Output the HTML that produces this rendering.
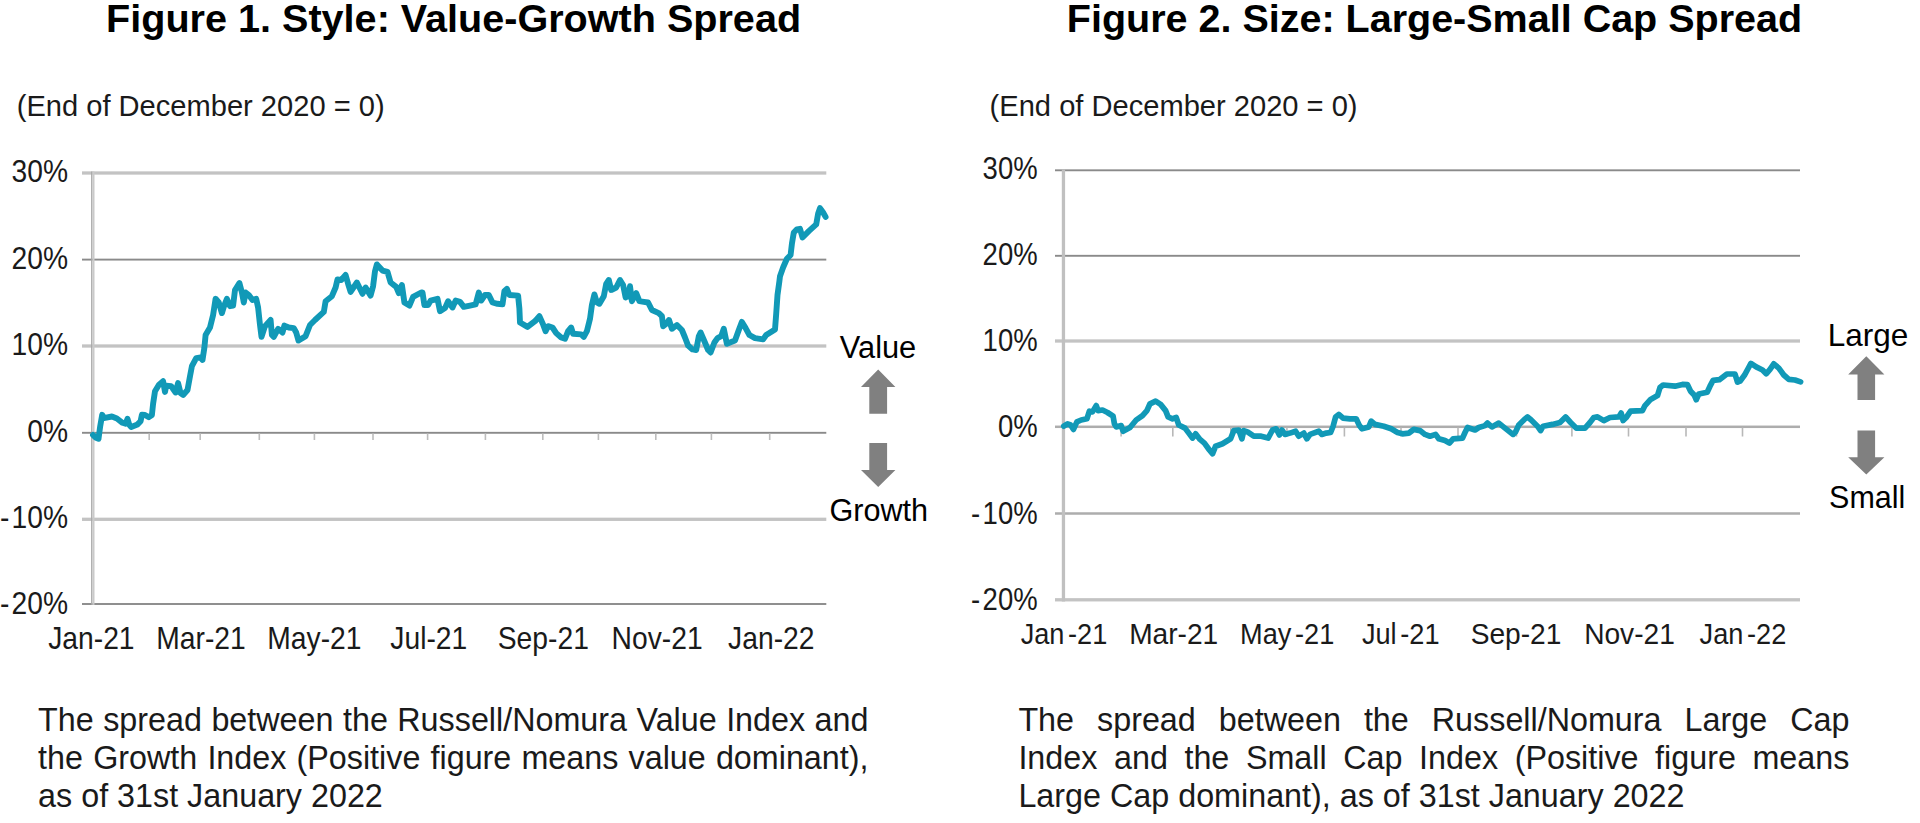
<!DOCTYPE html>
<html lang="en">
<head>
<meta charset="utf-8">
<title>Russell/Nomura Style and Size Spreads</title>
<style>
html,body{margin:0;padding:0;background:#fff;}
body{width:1920px;height:823px;position:relative;overflow:hidden;font-family:"Liberation Sans",Arial,Helvetica,sans-serif;color:#1a1a1a;}
svg{position:absolute;left:0;top:0;}
svg text{font-family:"Liberation Sans",Arial,Helvetica,sans-serif;fill:#1a1a1a;}
.cap{position:absolute;font-size:32.3px;line-height:38.3px;color:#1a1a1a;}
.cap div{white-space:nowrap;text-align:justify;text-align-last:justify;height:38.3px;}
.cap div.last{text-align:left;text-align-last:left;}
#cap1{left:38.1px;top:700.8px;width:830.4px;}
#cap2{left:1018.4px;top:700.8px;width:831px;}
</style>
</head>
<body>
<svg width="1920" height="823" viewBox="0 0 1920 823">
<rect x="82" y="171.35" width="744.3" height="3.3" fill="#c3c3c3"/>
<rect x="82" y="258.65" width="744.3" height="1.9" fill="#8a8a8a"/>
<rect x="82" y="344.35" width="744.3" height="3.3" fill="#c3c3c3"/>
<rect x="82" y="431.85" width="744.3" height="1.9" fill="#8a8a8a"/>
<rect x="82" y="517.65" width="744.3" height="3.3" fill="#c3c3c3"/>
<rect x="82" y="603.05" width="744.3" height="1.9" fill="#8a8a8a"/>
<rect x="91.1" y="171.5" width="1.3" height="433.4" fill="#a8a8a8"/><rect x="92.4" y="171.5" width="2.1" height="433.4" fill="#cacaca"/>
<rect x="148.4" y="433.5" width="1.6" height="6.5" fill="#bdbdbd"/>
<rect x="199.4" y="433.5" width="1.6" height="6.5" fill="#bdbdbd"/>
<rect x="258.5" y="433.5" width="1.6" height="6.5" fill="#bdbdbd"/>
<rect x="313.6" y="433.5" width="1.6" height="6.5" fill="#bdbdbd"/>
<rect x="372.2" y="433.5" width="1.6" height="6.5" fill="#bdbdbd"/>
<rect x="426.8" y="433.5" width="1.6" height="6.5" fill="#bdbdbd"/>
<rect x="484.6" y="433.5" width="1.6" height="6.5" fill="#bdbdbd"/>
<rect x="542.0" y="433.5" width="1.6" height="6.5" fill="#bdbdbd"/>
<rect x="597.6" y="433.5" width="1.6" height="6.5" fill="#bdbdbd"/>
<rect x="655.0" y="433.5" width="1.6" height="6.5" fill="#bdbdbd"/>
<rect x="710.6" y="433.5" width="1.6" height="6.5" fill="#bdbdbd"/>
<rect x="768.9" y="433.5" width="1.6" height="6.5" fill="#bdbdbd"/>
<path d="M93.0,435.0 L95.5,437.5 L98.5,438.8 L100.2,426.2 L102.2,414.8 L103.8,418.1 L111.9,416.5 L116.9,418.5 L122.5,422.8 L125.6,423.8 L127.5,418.8 L129.4,425.0 L131.2,426.9 L137.5,424.4 L140.6,421.2 L141.9,414.8 L145.0,415.0 L148.8,417.2 L151.9,415.0 L153.1,403.8 L155.0,391.2 L158.8,385.0 L163.1,381.2 L165.0,391.9 L166.2,385.6 L171.2,386.2 L175.6,392.5 L178.1,383.1 L180.6,393.1 L183.1,395.0 L187.5,390.0 L190.0,376.2 L191.9,366.2 L196.2,358.1 L200.6,357.5 L202.5,360.0 L204.4,347.5 L205.6,335.0 L210.0,327.5 L213.1,315.0 L215.6,298.8 L218.8,302.5 L221.9,313.1 L224.4,305.0 L226.9,298.8 L230.0,306.2 L233.1,305.6 L235.0,290.0 L239.4,283.1 L241.9,292.5 L243.8,302.5 L245.6,292.5 L248.8,295.0 L252.5,300.0 L256.2,298.8 L258.1,307.5 L260.0,325.0 L261.5,336.9 L265.0,326.2 L270.6,320.0 L271.9,335.0 L273.8,336.9 L278.1,328.8 L282.5,332.5 L284.4,325.6 L288.8,327.5 L293.8,328.1 L296.2,332.5 L298.5,340.6 L305.6,336.2 L310.0,325.0 L315.0,320.0 L323.8,311.9 L325.6,301.2 L331.9,296.2 L335.6,287.5 L337.5,279.4 L341.2,280.0 L345.6,275.0 L348.1,283.8 L350.6,291.9 L356.9,282.5 L362.5,293.8 L365.6,287.5 L370.6,295.6 L373.1,286.2 L375.0,271.2 L376.9,264.4 L382.5,270.6 L387.5,271.9 L390.6,282.5 L396.2,286.9 L398.8,293.1 L401.9,285.0 L404.4,302.5 L409.4,305.6 L413.1,296.9 L421.2,292.5 L422.5,292.5 L424.4,305.0 L428.1,305.0 L430.6,300.6 L437.5,298.8 L440.0,311.2 L445.0,308.1 L448.1,301.2 L452.5,307.5 L455.6,300.6 L460.0,301.9 L463.8,306.9 L470.0,305.6 L475.6,304.4 L478.8,292.5 L481.2,300.6 L485.0,295.0 L488.8,295.0 L492.5,302.5 L497.5,303.8 L502.5,304.4 L504.4,291.2 L506.9,288.8 L509.4,295.0 L518.1,295.6 L519.4,308.8 L520.0,322.5 L527.5,326.9 L535.0,321.2 L539.4,316.2 L543.1,324.4 L545.6,331.2 L548.1,326.2 L552.5,327.5 L556.2,333.1 L561.2,337.5 L565.0,338.8 L568.1,331.2 L571.2,327.5 L573.1,333.8 L581.2,334.4 L583.8,336.9 L586.9,331.2 L590.0,318.8 L591.9,305.0 L594.4,294.4 L596.9,302.5 L599.4,303.8 L603.8,296.2 L606.2,283.8 L608.8,280.0 L611.2,290.0 L616.2,287.5 L620.0,280.0 L623.1,285.0 L625.6,297.5 L628.1,296.2 L630.0,286.2 L631.9,301.2 L636.2,293.1 L639.4,301.2 L643.8,301.9 L648.1,302.5 L651.9,310.0 L658.8,313.1 L661.9,316.2 L663.1,326.2 L666.9,323.1 L669.0,320.0 L671.9,328.8 L676.9,325.0 L681.9,330.0 L685.0,337.5 L688.1,345.6 L692.5,349.4 L696.2,350.0 L698.8,336.2 L700.6,332.5 L704.4,341.2 L708.1,350.0 L710.6,352.5 L714.4,342.5 L717.5,338.1 L721.2,336.2 L723.8,328.8 L726.9,343.8 L730.0,342.5 L735.0,340.6 L738.8,330.0 L741.9,321.9 L745.6,328.1 L749.4,335.0 L755.0,338.1 L763.1,339.4 L766.2,335.0 L775.0,329.4 L776.2,313.8 L777.5,295.0 L779.4,281.2 L780.0,276.2 L783.1,267.5 L786.9,258.8 L790.6,255.0 L791.9,243.8 L793.8,232.5 L796.9,229.4 L800.0,228.8 L802.5,237.5 L808.8,231.2 L816.2,224.4 L818.1,213.8 L820.0,208.1 L823.1,212.5 L825.6,216.9" fill="none" stroke="#1199b7" stroke-width="5.9" stroke-linejoin="round" stroke-linecap="round"/>
<text transform="translate(68.0 182.2) scale(0.893 1)" font-size="31.6" text-anchor="end" font-weight="normal">30%</text>
<text transform="translate(68.0 268.6) scale(0.893 1)" font-size="31.6" text-anchor="end" font-weight="normal">20%</text>
<text transform="translate(68.0 355.1) scale(0.893 1)" font-size="31.6" text-anchor="end" font-weight="normal">10%</text>
<text transform="translate(68.0 441.5) scale(0.893 1)" font-size="31.6" text-anchor="end" font-weight="normal">0%</text>
<text transform="translate(68.0 528.0) scale(0.893 1)" font-size="31.6" text-anchor="end" font-weight="normal"><tspan letter-spacing="2.4">-</tspan>10%</text>
<text transform="translate(68.0 614.4) scale(0.893 1)" font-size="31.6" text-anchor="end" font-weight="normal"><tspan letter-spacing="2.4">-</tspan>20%</text>
<text transform="translate(91.4 648.9) scale(0.9 1)" font-size="31.4" text-anchor="middle" font-weight="normal">Jan-21</text>
<text transform="translate(201.0 648.9) scale(0.9 1)" font-size="31.4" text-anchor="middle" font-weight="normal">Mar-21</text>
<text transform="translate(314.4 648.9) scale(0.9 1)" font-size="31.4" text-anchor="middle" font-weight="normal">May-21</text>
<text transform="translate(428.8 648.9) scale(0.9 1)" font-size="31.4" text-anchor="middle" font-weight="normal">Jul-21</text>
<text transform="translate(543.3 648.9) scale(0.9 1)" font-size="31.4" text-anchor="middle" font-weight="normal">Sep-21</text>
<text transform="translate(657.1 648.9) scale(0.9 1)" font-size="31.4" text-anchor="middle" font-weight="normal">Nov-21</text>
<text transform="translate(771.3 648.9) scale(0.9 1)" font-size="31.4" text-anchor="middle" font-weight="normal">Jan-22</text>
<text x="878" y="358.3" font-size="30.8" text-anchor="middle" font-weight="normal" style="fill:#000">Value</text>
<text x="878.8" y="520.7" font-size="30.6" text-anchor="middle" font-weight="normal" style="fill:#000">Growth</text>
<path d="M878.2,369.4 L895.4000000000001,386.9 L887.1,386.9 L887.1,413.8 L869.3000000000001,413.8 L869.3000000000001,386.9 L861.0,386.9 Z" fill="#808080"/>
<path d="M878.2,486.9 L895.4000000000001,470 L887.1,470 L887.1,443.1 L869.3000000000001,443.1 L869.3000000000001,470 L861.0,470 Z" fill="#808080"/>
<text x="106.1" y="32.0" font-size="39.6" text-anchor="start" font-weight="bold" id="t1" style="fill:#000">Figure 1. Style: Value-Growth Spread</text>
<text x="16.7" y="115.5" font-size="29.1" text-anchor="start" font-weight="normal" id="s1">(End of December 2020 = 0)</text>
<rect x="1055" y="169.35" width="745.0" height="1.9" fill="#8a8a8a"/>
<rect x="1055" y="254.85" width="745.0" height="1.9" fill="#8a8a8a"/>
<rect x="1055" y="339.35" width="745.0" height="3.3" fill="#c3c3c3"/>
<rect x="1055" y="425.55" width="745.0" height="2.5" fill="#adadad"/>
<rect x="1055" y="512.25" width="745.0" height="2.5" fill="#adadad"/>
<rect x="1055" y="598.15" width="745.0" height="3.3" fill="#c3c3c3"/>
<rect x="1061.8" y="169.5" width="3.3" height="432" fill="#c0c0c0"/>
<rect x="1120.3" y="427.5" width="1.6" height="9" fill="#b8b8b8"/>
<rect x="1172.0" y="427.5" width="1.6" height="9" fill="#b8b8b8"/>
<rect x="1230.0" y="427.5" width="1.6" height="9" fill="#b8b8b8"/>
<rect x="1286.1" y="427.5" width="1.6" height="9" fill="#b8b8b8"/>
<rect x="1343.6" y="427.5" width="1.6" height="9" fill="#b8b8b8"/>
<rect x="1400.2" y="427.5" width="1.6" height="9" fill="#b8b8b8"/>
<rect x="1457.2" y="427.5" width="1.6" height="9" fill="#b8b8b8"/>
<rect x="1515.7" y="427.5" width="1.6" height="9" fill="#b8b8b8"/>
<rect x="1571.1" y="427.5" width="1.6" height="9" fill="#b8b8b8"/>
<rect x="1627.7" y="427.5" width="1.6" height="9" fill="#b8b8b8"/>
<rect x="1685.2" y="427.5" width="1.6" height="9" fill="#b8b8b8"/>
<rect x="1741.7" y="427.5" width="1.6" height="9" fill="#b8b8b8"/>
<path d="M1063.8,426.2 L1067.5,423.8 L1070.6,425.0 L1073.5,429.4 L1076.9,421.9 L1081.2,420.0 L1086.9,418.8 L1089.4,411.2 L1092.5,411.9 L1096.2,405.6 L1098.1,410.6 L1102.5,410.0 L1107.5,412.5 L1113.1,416.2 L1114.4,423.8 L1116.2,426.9 L1121.2,425.6 L1123.1,431.2 L1130.0,427.5 L1136.2,420.0 L1142.5,415.6 L1146.9,410.6 L1150.0,403.8 L1155.6,401.2 L1160.6,404.4 L1165.6,410.6 L1168.1,416.9 L1172.5,418.8 L1176.2,417.5 L1178.8,425.0 L1185.0,428.1 L1188.8,433.1 L1192.5,438.1 L1195.6,433.8 L1200.0,439.4 L1204.4,443.1 L1209.4,450.0 L1212.5,453.8 L1215.6,446.2 L1222.5,443.8 L1230.6,438.8 L1233.8,430.6 L1238.8,430.0 L1241.9,438.8 L1243.8,430.6 L1247.5,431.9 L1253.8,436.2 L1261.2,436.2 L1268.1,438.1 L1272.5,430.0 L1276.2,428.8 L1279.4,435.0 L1281.9,430.0 L1285.0,434.4 L1290.0,433.1 L1295.6,431.2 L1298.8,436.2 L1303.8,433.1 L1306.9,438.8 L1310.0,434.4 L1318.8,431.2 L1321.9,434.4 L1326.2,433.1 L1330.6,432.5 L1333.1,426.2 L1335.6,416.9 L1338.8,414.4 L1343.1,418.1 L1350.0,418.8 L1356.2,418.8 L1359.4,425.6 L1361.9,428.8 L1368.8,426.9 L1371.2,421.2 L1375.0,424.4 L1383.8,426.2 L1391.2,428.8 L1397.5,432.5 L1402.5,433.8 L1408.8,433.1 L1413.8,429.4 L1420.0,430.6 L1425.0,434.4 L1430.0,436.2 L1435.6,434.4 L1438.8,438.8 L1445.0,440.6 L1449.4,443.1 L1453.1,438.8 L1462.5,438.1 L1465.0,432.5 L1467.5,427.5 L1475.0,430.0 L1478.8,427.5 L1485.0,425.6 L1487.5,423.1 L1491.9,426.9 L1498.8,423.1 L1505.0,428.1 L1513.1,434.4 L1515.5,432.0 L1518.8,425.0 L1524.4,419.4 L1527.5,416.9 L1531.2,420.0 L1537.5,426.2 L1540.6,430.6 L1543.1,426.2 L1552.5,424.4 L1560.0,422.5 L1565.6,416.9 L1570.6,422.5 L1576.2,428.1 L1585.0,428.1 L1590.0,422.5 L1593.8,417.5 L1597.5,416.9 L1603.8,420.6 L1610.0,417.5 L1618.8,416.9 L1621.2,413.1 L1623.1,420.6 L1626.2,417.5 L1630.6,411.2 L1642.5,410.6 L1645.0,405.6 L1650.6,399.4 L1657.5,395.6 L1660.0,387.5 L1663.1,385.0 L1675.0,386.2 L1682.5,384.4 L1687.5,384.7 L1690.6,391.2 L1694.4,395.3 L1696.2,399.7 L1698.8,394.0 L1707.2,392.2 L1710.0,386.2 L1713.1,380.3 L1719.4,379.7 L1726.9,374.0 L1735.0,374.0 L1737.5,382.2 L1740.0,381.2 L1744.4,375.3 L1748.4,368.0 L1750.9,363.4 L1756.2,366.9 L1762.5,370.0 L1766.2,373.8 L1770.0,369.4 L1773.8,363.8 L1778.8,368.1 L1783.8,375.0 L1788.8,379.4 L1795.0,380.0 L1800.6,381.9" fill="none" stroke="#1199b7" stroke-width="5.7" stroke-linejoin="round" stroke-linecap="round"/>
<text transform="translate(1037.6 178.5) scale(0.875 1)" font-size="31.4" text-anchor="end" font-weight="normal">30%</text>
<text transform="translate(1037.6 264.7) scale(0.875 1)" font-size="31.4" text-anchor="end" font-weight="normal">20%</text>
<text transform="translate(1037.6 351.0) scale(0.875 1)" font-size="31.4" text-anchor="end" font-weight="normal">10%</text>
<text transform="translate(1037.6 437.2) scale(0.875 1)" font-size="31.4" text-anchor="end" font-weight="normal">0%</text>
<text transform="translate(1037.6 523.5) scale(0.875 1)" font-size="31.4" text-anchor="end" font-weight="normal"><tspan letter-spacing="2.9">-</tspan>10%</text>
<text transform="translate(1037.6 609.7) scale(0.875 1)" font-size="31.4" text-anchor="end" font-weight="normal"><tspan letter-spacing="2.9">-</tspan>20%</text>
<text transform="translate(1064.0 644.3) scale(0.925 1)" font-size="29.4" text-anchor="middle" font-weight="normal">Jan<tspan dx="3.9">-21</tspan></text>
<text transform="translate(1173.7 644.3) scale(0.958 1)" font-size="29.4" text-anchor="middle" font-weight="normal">Mar-21</text>
<text transform="translate(1287.2 644.3) scale(0.925 1)" font-size="29.4" text-anchor="middle" font-weight="normal">May<tspan dx="3.9">-21</tspan></text>
<text transform="translate(1400.7 644.3) scale(0.925 1)" font-size="29.4" text-anchor="middle" font-weight="normal">Jul<tspan dx="3.9">-21</tspan></text>
<text transform="translate(1516.0 644.3) scale(0.958 1)" font-size="29.4" text-anchor="middle" font-weight="normal">Sep-21</text>
<text transform="translate(1629.5 644.3) scale(0.958 1)" font-size="29.4" text-anchor="middle" font-weight="normal">Nov-21</text>
<text transform="translate(1742.9 644.3) scale(0.925 1)" font-size="29.4" text-anchor="middle" font-weight="normal">Jan<tspan dx="3.9">-22</tspan></text>
<text x="1868" y="346" font-size="31.5" text-anchor="middle" font-weight="normal" style="fill:#000">Large</text>
<text x="1867.2" y="508.2" font-size="30.5" text-anchor="middle" font-weight="normal" style="fill:#000">Small</text>
<path d="M1866.3,356.3 L1884.3999999999999,374.4 L1875.1,374.4 L1875.1,400 L1857.5,400 L1857.5,374.4 L1848.2,374.4 Z" fill="#808080"/>
<path d="M1866.3,474.4 L1884.3999999999999,457.3 L1875.1,457.3 L1875.1,430.6 L1857.5,430.6 L1857.5,457.3 L1848.2,457.3 Z" fill="#808080"/>
<text x="1066.8" y="32.0" font-size="39.5" text-anchor="start" font-weight="bold" id="t2" style="fill:#000">Figure 2. Size: Large-Small Cap Spread</text>
<text x="989.6" y="115.6" font-size="29.1" text-anchor="start" font-weight="normal" id="s2">(End of December 2020 = 0)</text>
</svg>
<div class="cap" id="cap1"><div>The spread between the Russell/Nomura Value Index and</div><div>the Growth Index (Positive figure means value dominant),</div><div class="last">as of 31st January 2022</div></div>
<div class="cap" id="cap2"><div>The spread between the Russell/Nomura Large Cap</div><div>Index and the Small Cap Index (Positive figure means</div><div class="last">Large Cap dominant), as of 31st January 2022</div></div>
</body>
</html>
